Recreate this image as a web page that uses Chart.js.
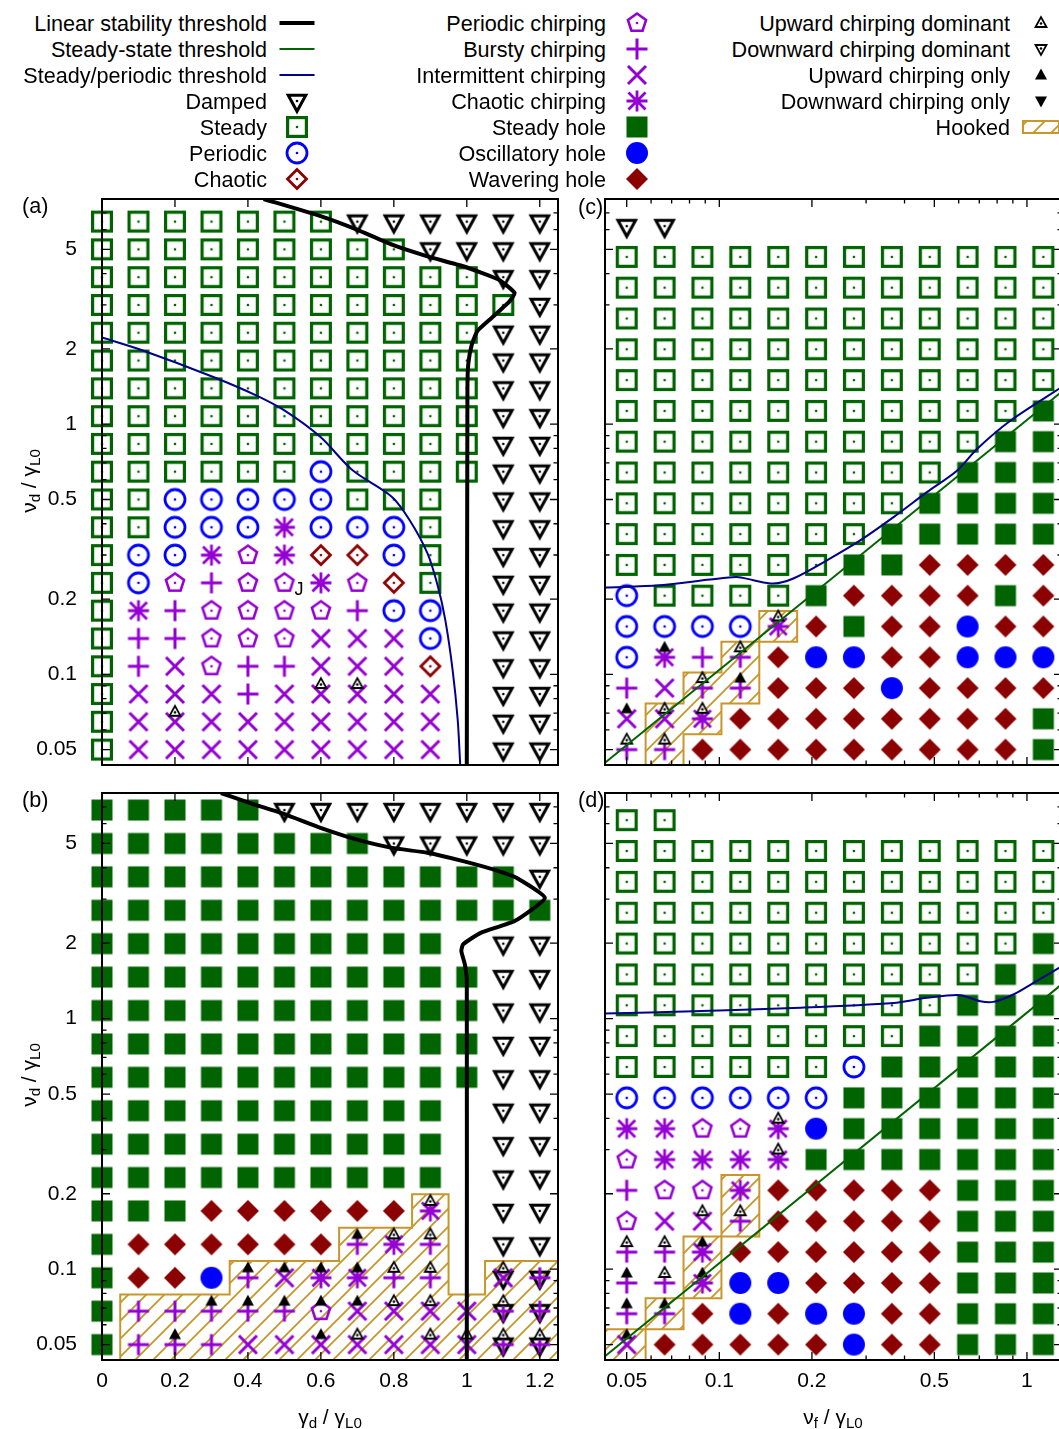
<!DOCTYPE html>
<html>
<head>
<meta charset="utf-8">
<script src="https://cdn.jsdelivr.net/npm/chart.js@4.4.1/dist/chart.umd.min.js"></script>
<style>
  html, body { margin: 0; padding: 0; background: #fff; overflow: hidden; }
  body { width: 1059px; height: 1429px; position: relative; font-family: "Liberation Sans", Arial, sans-serif; color: #000; }
  canvas.panel, canvas.ico { position: absolute; }
  .txt { position: absolute; white-space: nowrap; font-size: 21.6px; line-height: 1; transform: translateY(-50%); }
  .axt { position: absolute; white-space: nowrap; font-size: 21px; line-height: 1; transform: translate(-50%, -50%); }
  .axt.rot { transform: translate(-50%, -50%) rotate(-90deg); }
  sub { font-size: 0.72em; vertical-align: -0.32em; line-height: 0; }
</style>
</head>
<body>
<canvas id="pa" class="panel" width="540" height="590" style="left:30px;top:187px"></canvas>
<canvas id="pb" class="panel" width="540" height="640" style="left:30px;top:781px"></canvas>
<canvas id="pc" class="panel" width="500" height="590" style="left:580px;top:187px"></canvas>
<canvas id="pd" class="panel" width="500" height="640" style="left:580px;top:781px"></canvas>

<div class="txt" style="left:22px;top:206px">(a)</div>
<div class="txt" style="left:22px;top:800px">(b)</div>
<div class="txt" style="left:578px;top:207px">(c)</div>
<div class="txt" style="left:578px;top:800px">(d)</div>
<div class="axt rot" style="left:28px;top:481px">ν<sub>d</sub> / γ<sub>L0</sub></div>
<div class="axt rot" style="left:28px;top:1075px">ν<sub>d</sub> / γ<sub>L0</sub></div>
<div class="axt" style="left:330px;top:1416px">γ<sub>d</sub> / γ<sub>L0</sub></div>
<div class="axt" style="left:833px;top:1416px">ν<sub>f</sub> / γ<sub>L0</sub></div>

<script>
// grid coordinates
const gammaD = [0, 0.1, 0.2, 0.3, 0.4, 0.5, 0.6, 0.7, 0.8, 0.9, 1.0, 1.1, 1.2];
const nuA = [0.05, 0.0646, 0.0834, 0.1077, 0.1391, 0.1797, 0.2321, 0.2997, 0.3871, 0.5, 0.646, 0.834, 1.077, 1.391, 1.797, 2.321, 2.997, 3.871, 5.0, 6.458];
const nuB = [0.05, 0.068, 0.0924, 0.1256, 0.1708, 0.2321, 0.3155, 0.4289, 0.5831, 0.7926, 1.077, 1.464, 1.991, 2.706, 3.679, 5.0, 6.797];
const nuF = [0.05, 0.0664, 0.0881, 0.117, 0.1554, 0.2063, 0.2739, 0.3637, 0.4829, 0.6412, 0.8514, 1.1305];
const nuCD = [0.05, 0.0664, 0.0881, 0.117, 0.1554, 0.2063, 0.2739, 0.3637, 0.4829, 0.6412, 0.8514, 1.1305, 1.5011, 1.9932, 2.6466, 3.5142, 4.6662, 6.1958];

// regime maps, top row first.  S steady, D damped, P periodic, C chaotic,
// p/b/i/c periodic/bursty/intermittent/chaotic chirping, H/O/W steady/oscillatory/wavering hole,
// u/d upward/downward dominant, U/V upward/downward only
const mapA = [
  'S S S S S S S D D D D D D',
  'S S S S S S S S S D D D D',
  'S S S S S S S S S S S D D',
  'S S S S S S S S S S S S D',
  'S S S S S S S S S S S D D',
  'S S S S S S S S S S S D D',
  'S S S S S S S S S S S D D',
  'S S S S S S S S S S S D D',
  'S S S S S S S S S S S D D',
  'S S S S S S P S S S S D D',
  'S S P P P P P S S S . D D',
  'S S P P P c P P P S . D D',
  'S P P c p c C C P S . D D',
  'S P p b p p c p C S . D D',
  'S c b p p p p b P P . D D',
  'S b b p p p i i i P . D D',
  'S b i p b b i i i C . D D',
  'S i i i b i iu iu i i . D D',
  'S i iu i i i i i i i . D D',
  'S i i i i i i i i i . D D'
];
const mapB = [
  'H H H H H D D D D D D D D',
  'H H H H H H H H D D D D D',
  'H H H H H H H H H H H H D',
  'H H H H H H H H H H H H H',
  'H H H H H H H H H H . D D',
  'H H H H H H H H H H H D D',
  'H H H H H H H H H H H D D',
  'H H H H H H H H H H H D D',
  'H H H H H H H H H H H D D',
  'H H H H H H H H H H . D D',
  'H H H H H H H H H H . D D',
  'H H H H H H H H H H . D D',
  'H H H W W W W W W cu . D D',
  'H W W W W W W bU cu bu . D D',
  'H W W O bU iU cU cU bu bu . Diu Db',
  'H b b bU bU bU pU iU iu iu i Dbu Db',
  'H b bU b i i iU iu i iu iu Dbu Dbu'
];
const mapC = [
  'D D . . . . . . . . . .',
  'S S S S S S S S S S S S',
  'S S S S S S S S S S S S',
  'S S S S S S S S S S S S',
  'S S S S S S S S S S S S',
  'S S S S S S S S S S S S',
  'S S S S S S S S S S S H',
  'S S S S S S S S S S H H',
  'S S S S S S S S S H H H',
  'S S S S S S S S H H H H',
  'S S S S S S S H H H H H',
  'S S S S S S H H W W W W',
  'P S S S S H W W W W H W',
  'P P P P cu W H W W O W W',
  'P cU b bu W O O W W O O O',
  'b i bu bU W W W O W W W W',
  'iU iu cu W W W W W W W W H',
  'bu bu W W W W W W W W W H'
];
const mapD = [
  'S S . . . . . . . . . .',
  'S S S S S S S S S S S S',
  'S S S S S S S S S S S S',
  'S S S S S S S S S S S S',
  'S S S S S S S S S S S H',
  'S S S S S S S S S S H H',
  'S S S S S S S S S H H H',
  'S S S S S S S S H H H H',
  'S S S S S S P H H H H H',
  'P P P P P P H H H H H H',
  'c c p p cu O H H H H H H',
  'p c c c cu H H H H H H H',
  'b p p c W W W W W H H H',
  'p i iu bu W W W W W H H H',
  'bu bu cU W W W W W W H H H',
  'bU bu cU O O W W W W H H H',
  'bU bU W O W O O W W H H H',
  'iU W W W W W O W W H H H'
];

// threshold curves
const stabA_x = [0.443, 0.599, 0.697, 0.795, 0.892, 0.990, 1.087, 1.131, 1.117, 1.068, 1.029, 1.014, 1.004, 1.0017, 1.0];
const stabA_y = [7.95, 6.79, 6.01, 5.22, 4.69, 4.28, 3.79, 3.35, 3.10, 2.66, 2.36, 2.09, 1.74, 1.36, 0.0434];
const perA_x = [0, 0.112, 0.307, 0.424, 0.502, 0.599, 0.687, 0.795, 0.843, 0.892, 0.921, 0.941, 0.961, 0.975, 0.982];
const perA_y = [2.22, 1.97, 1.54, 1.30, 1.13, 0.888, 0.654, 0.512, 0.414, 0.305, 0.224, 0.165, 0.1045, 0.066, 0.0434];
const stabB_x = [0.326, 0.404, 0.502, 0.599, 0.697, 0.795, 0.892, 0.990, 1.087, 1.136, 1.214, 1.131, 1.038, 0.990, 0.985, 0.995, 1.0, 1.0];
const stabB_y = [7.95, 7.26, 6.53, 5.77, 5.19, 4.80, 4.59, 4.25, 3.88, 3.65, 3.03, 2.45, 2.20, 1.98, 1.86, 1.64, 1.41, 0.0434];
const perC_x = [0.0425, 0.0642, 0.0933, 0.114, 0.129, 0.150, 0.174, 0.2237, 0.287, 0.3684, 0.473, 0.592, 0.688, 0.883, 1.30];
const perC_y = [0.2224, 0.2272, 0.2393, 0.2451, 0.2378, 0.2307, 0.2416, 0.2856, 0.343, 0.425, 0.535, 0.652, 0.796, 1.032, 1.41];
const ssC_x = [0.0425, 1.30];
const ssC_y = [0.0443, 1.352];
const perD_x = [0.0425, 0.0823, 0.174, 0.368, 0.473, 0.607, 0.705, 0.778, 0.904, 1.05, 1.30];
const perD_y = [1.048, 1.070, 1.103, 1.155, 1.21, 1.24, 1.173, 1.166, 1.248, 1.388, 1.62];
const ssD_x = [0.0425, 1.30];
const ssD_y = [0.0449, 1.373];

// hooked regions
const hookB_x = [0.05, 0.05, 0.35, 0.35, 0.65, 0.65, 0.85, 0.85, 0.95, 0.95, 1.05, 1.05, 1.25, 1.25, 0.05];
const hookB_y = [0.0434, 0.0792, 0.0792, 0.1077, 0.1077, 0.1464, 0.1464, 0.1991, 0.1991, 0.0792, 0.0792, 0.1077, 0.1077, 0.0434, 0.0434];
const hookC_x = [0.0576, 0.0576, 0.0765, 0.0765, 0.1016, 0.1016, 0.1349, 0.1349, 0.1791, 0.1791, 0.1349, 0.1349, 0.1016, 0.1016, 0.0765, 0.0765, 0.0576];
const hookC_y = [0.0434, 0.0765, 0.0765, 0.1016, 0.1016, 0.1349, 0.1349, 0.1791, 0.1791, 0.1349, 0.1349, 0.0765, 0.0765, 0.0576, 0.0576, 0.0434, 0.0434];
const hookD_x = [0.0425, 0.0425, 0.0576, 0.0576, 0.0765, 0.0765, 0.1016, 0.1016, 0.1349, 0.1349, 0.1016, 0.1016, 0.0765, 0.0765, 0.0576, 0.0576, 0.0425];
const hookD_y = [0.0434, 0.0576, 0.0576, 0.0765, 0.0765, 0.1349, 0.1349, 0.2377, 0.2377, 0.1349, 0.1349, 0.0765, 0.0765, 0.0576, 0.0576, 0.0434, 0.0434];

// ticks
const yTicks = [0.05, 0.06, 0.07, 0.08, 0.09, 0.1, 0.2, 0.3, 0.4, 0.5, 0.6, 0.7, 0.8, 0.9, 1, 2, 3, 4, 5, 6, 7];
const yLabels = [0.05, 0.1, 0.2, 0.5, 1, 2, 5];
const xTicksAB = [0, 0.2, 0.4, 0.6, 0.8, 1, 1.2];
const xTicksCD = [0.05, 0.06, 0.07, 0.08, 0.09, 0.1, 0.2, 0.3, 0.4, 0.5, 0.6, 0.7, 0.8, 0.9, 1];
const xLabelsCD = [0.05, 0.1, 0.2, 0.5, 1];
const notesA = [{text: 'J', x: 0.54, y: 0.2179}];

const GREEN = '#006400', BLUE = '#0000ff', DRED = '#8b0000', PURPLE = '#9400d3', BLACK = '#000000';
const NAVY = '#00008b', GOLD = '#c8962a';

Chart.defaults.font.family = '"Liberation Sans", Arial, sans-serif';

function poly(g, pts) {
  g.beginPath();
  pts.forEach((p, i) => i ? g.lineTo(p[0], p[1]) : g.moveTo(p[0], p[1]));
  g.closePath();
}
function segs(g, color, w, list) {
  g.strokeStyle = color; g.lineWidth = w;
  g.beginPath();
  list.forEach(s => { g.moveTo(s[0], s[1]); g.lineTo(s[2], s[3]); });
  g.stroke();
}
function dot(g, x, y, color) {
  g.fillStyle = color;
  g.beginPath(); g.arc(x, y, 1.3, 0, 2 * Math.PI); g.fill();
}

function drawSym(g, code, x, y) {
  g.save();
  g.lineJoin = 'miter';
  switch (code) {
    case 'S':
      g.strokeStyle = GREEN; g.lineWidth = 3.2;
      g.strokeRect(x - 9.4, y - 9.4, 18.8, 18.8);
      dot(g, x, y, GREEN); break;
    case 'H':
      g.fillStyle = GREEN; g.fillRect(x - 10.5, y - 10.5, 21, 21); break;
    case 'D':
      g.strokeStyle = BLACK; g.lineWidth = 3;
      poly(g, [[x - 8.8, y - 5.7], [x + 8.8, y - 5.7], [x, y + 10.3]]); g.stroke();
      dot(g, x, y, BLACK); break;
    case 'P':
      g.strokeStyle = BLUE; g.lineWidth = 2.8;
      g.beginPath(); g.arc(x, y, 10, 0, 2 * Math.PI); g.stroke();
      dot(g, x, y, BLUE); break;
    case 'O':
      g.fillStyle = BLUE;
      g.beginPath(); g.arc(x, y, 11, 0, 2 * Math.PI); g.fill(); break;
    case 'C':
      g.strokeStyle = DRED; g.lineWidth = 2.8;
      poly(g, [[x, y - 9.5], [x + 9.5, y], [x, y + 9.5], [x - 9.5, y]]); g.stroke();
      dot(g, x, y, DRED); break;
    case 'W':
      g.fillStyle = DRED;
      poly(g, [[x, y - 11], [x + 11, y], [x, y + 11], [x - 11, y]]); g.fill(); break;
    case 'p': {
      const pts = [];
      for (let k = 0; k < 5; k++) {
        const a = -Math.PI / 2 + k * 2 * Math.PI / 5;
        pts.push([x + 9.5 * Math.cos(a), y + 9.5 * Math.sin(a)]);
      }
      g.strokeStyle = PURPLE; g.lineWidth = 2.6;
      poly(g, pts); g.stroke();
      dot(g, x, y, PURPLE); break;
    }
    case 'b':
      segs(g, PURPLE, 3, [[x - 10.5, y, x + 10.5, y], [x, y - 10.5, x, y + 10.5]]); break;
    case 'i':
      segs(g, PURPLE, 3, [[x - 9, y - 9, x + 9, y + 9], [x - 9, y + 9, x + 9, y - 9]]); break;
    case 'c':
      segs(g, PURPLE, 2.8, [[x - 10.5, y, x + 10.5, y], [x, y - 10.5, x, y + 10.5],
        [x - 8.5, y - 8.5, x + 8.5, y + 8.5], [x - 8.5, y + 8.5, x + 8.5, y - 8.5]]); break;
    case 'u':
      g.fillStyle = '#fff'; g.strokeStyle = BLACK; g.lineWidth = 1.8;
      poly(g, [[x - 5.5, y + 4], [x + 5.5, y + 4], [x, y - 6]]); g.fill(); g.stroke();
      dot(g, x, y + 0.5, BLACK); break;
    case 'd':
      g.fillStyle = '#fff'; g.strokeStyle = BLACK; g.lineWidth = 1.8;
      poly(g, [[x - 5.5, y - 4], [x + 5.5, y - 4], [x, y + 6]]); g.fill(); g.stroke();
      dot(g, x, y - 0.5, BLACK); break;
    case 'U':
      g.fillStyle = BLACK;
      poly(g, [[x - 6, y + 4.5], [x + 6, y + 4.5], [x, y - 6.5]]); g.fill(); break;
    case 'V':
      g.fillStyle = BLACK;
      poly(g, [[x - 6, y - 4.5], [x + 6, y - 4.5], [x, y + 6.5]]); g.fill(); break;
  }
  g.restore();
}

function makeIcon(code) {
  const c = document.createElement('canvas');
  c.width = 40; c.height = 40;
  const lift = 'udUV'.includes(code) ? -10 : 0;
  drawSym(c.getContext('2d'), code, 20, 20 + lift);
  return c;
}
const ICONS = {};
'SHDPOCWpbicudUV'.split('').forEach(ch => { ICONS[ch] = makeIcon(ch); });
const LAYER = {S: 30, H: 30, D: 30, P: 30, O: 30, C: 30, W: 30, p: 20, b: 20, i: 20, c: 20, u: 10, d: 10, U: 10, V: 10};

const TILE = (function () {
  const t = document.createElement('canvas');
  t.width = 18; t.height = 18;
  const g = t.getContext('2d');
  g.strokeStyle = GOLD; g.lineWidth = 1.8;
  g.beginPath();
  g.moveTo(-2, 20); g.lineTo(20, -2);
  g.moveTo(-2, 2); g.lineTo(2, -2);
  g.moveTo(16, 20); g.lineTo(20, 16);
  g.stroke();
  return t;
})();

function markerSets(map, xs, ys) {
  const groups = {};
  map.forEach((row, i) => {
    const k = map.length - 1 - i;
    row.trim().split(/\s+/).forEach((tok, j) => {
      if (tok === '.') return;
      for (const ch of tok) {
        (groups[ch] = groups[ch] || []).push({x: xs[j], y: ys[k]});
      }
    });
  });
  return Object.keys(groups).map(ch => ({
    data: groups[ch],
    pointStyle: ICONS[ch],
    pointRadius: 11,
    clip: false,
    order: LAYER[ch]
  }));
}

function curve(xs, ys, color, width, tension) {
  return {
    data: xs.map((x, i) => ({x: x, y: ys[i]})),
    showLine: true, borderColor: color, borderWidth: width,
    pointRadius: 0, tension: tension, fill: false, order: 0
  };
}

function hooked(xs, ys) {
  return {
    data: xs.map((x, i) => ({x: x, y: ys[i]})),
    showLine: true, borderColor: GOLD, borderWidth: 2, tension: 0, pointRadius: 0,
    fill: 'shape',
    backgroundColor: ctx => ctx.chart.ctx.createPattern(TILE, 'repeat'),
    order: 40
  };
}

function framePlugin(cfg) {
  return {
    id: 'frame',
    afterDraw(chart) {
      const {ctx, chartArea: a, scales: {x, y}} = chart;
      ctx.save();
      ctx.strokeStyle = BLACK;
      ctx.lineWidth = 1.3;
      ctx.beginPath();
      cfg.xTicks.forEach(v => {
        const px = x.getPixelForValue(v);
        const len = cfg.xLabels.includes(v) ? 8 : 4.5;
        ctx.moveTo(px, a.bottom); ctx.lineTo(px, a.bottom - len);
        ctx.moveTo(px, a.top); ctx.lineTo(px, a.top + len);
      });
      yTicks.forEach(v => {
        const py = y.getPixelForValue(v);
        const len = yLabels.includes(v) ? 8 : 4.5;
        ctx.moveTo(a.left, py); ctx.lineTo(a.left + len, py);
        ctx.moveTo(a.right, py); ctx.lineTo(a.right - len, py);
      });
      ctx.stroke();
      ctx.lineWidth = 2;
      ctx.strokeRect(a.left, a.top, a.right - a.left, a.bottom - a.top);
      (cfg.notes || []).forEach(n => {
        ctx.fillStyle = BLACK;
        ctx.font = '18px "Liberation Sans", Arial, sans-serif';
        ctx.textAlign = 'center'; ctx.textBaseline = 'middle';
        ctx.fillText(n.text, x.getPixelForValue(n.x), y.getPixelForValue(n.y));
      });
      ctx.restore();
    }
  };
}

function zeroPad(s) { s.paddingTop = 0; s.paddingBottom = 0; s.paddingLeft = 0; s.paddingRight = 0; }

function makePanel(id, cfg) {
  new Chart(document.getElementById(id), {
    type: 'scatter',
    data: {datasets: cfg.datasets},
    options: {
      responsive: false, animation: false, events: [],
      layout: {padding: {left: 0, right: cfg.padRight, top: 10, bottom: 0}},
      plugins: {legend: {display: false}, tooltip: {enabled: false}},
      scales: {
        x: {
          type: cfg.xType, min: cfg.xMin, max: cfg.xMax, position: 'bottom',
          grid: {display: false, drawTicks: false}, border: {display: false},
          afterBuildTicks: s => { s.ticks = cfg.xTicks.map(v => ({value: v})); },
          afterFit: s => { s.height = cfg.showX ? 61 : 12; zeroPad(s); },
          ticks: {
            display: cfg.showX, autoSkip: false, maxRotation: 0, minRotation: 0, padding: 9,
            color: BLACK, font: {size: 21},
            callback: v => cfg.xLabels.includes(v) ? String(v) : ''
          }
        },
        y: {
          type: 'logarithmic', min: 0.0434, max: 7.95, position: 'left',
          grid: {display: false, drawTicks: false}, border: {display: false},
          afterBuildTicks: s => { s.ticks = yTicks.map(v => ({value: v})); },
          afterFit: s => { s.width = cfg.yWidth; zeroPad(s); },
          ticks: {
            display: cfg.showY, autoSkip: false, padding: 25, color: BLACK, font: {size: 21},
            callback: v => yLabels.includes(v) ? String(v) : ''
          }
        }
      }
    },
    plugins: [framePlugin(cfg)]
  });
}

makePanel('pa', {
  xType: 'linear', xMin: 0, xMax: 1.25, xTicks: xTicksAB, xLabels: xTicksAB,
  showX: false, showY: true, yWidth: 72, padRight: 11, notes: notesA,
  datasets: [
    curve(stabA_x, stabA_y, BLACK, 4, 0.15),
    curve(perA_x, perA_y, NAVY, 2, 0.3)
  ].concat(markerSets(mapA, gammaD, nuA))
});
makePanel('pb', {
  xType: 'linear', xMin: 0, xMax: 1.25, xTicks: xTicksAB, xLabels: xTicksAB,
  showX: true, showY: true, yWidth: 72, padRight: 11,
  datasets: [
    curve(stabB_x, stabB_y, BLACK, 4, 0.15),
    hooked(hookB_x, hookB_y)
  ].concat(markerSets(mapB, gammaD, nuB))
});
makePanel('pc', {
  xType: 'logarithmic', xMin: 0.0425, xMax: 1.30, xTicks: xTicksCD, xLabels: xLabelsCD,
  showX: false, showY: false, yWidth: 25, padRight: 18,
  datasets: [
    curve(perC_x, perC_y, NAVY, 2, 0.3),
    curve(ssC_x, ssC_y, GREEN, 2, 0),
    hooked(hookC_x, hookC_y)
  ].concat(markerSets(mapC, nuF, nuCD))
});
makePanel('pd', {
  xType: 'logarithmic', xMin: 0.0425, xMax: 1.30, xTicks: xTicksCD, xLabels: xLabelsCD,
  showX: true, showY: false, yWidth: 25, padRight: 18,
  datasets: [
    curve(perD_x, perD_y, NAVY, 2, 0.3),
    curve(ssD_x, ssD_y, GREEN, 2, 0),
    hooked(hookD_x, hookD_y)
  ].concat(markerSets(mapD, nuF, nuCD))
});

// legend
const legendRows = [24, 50, 76, 102, 128, 154, 180];
const legendCols = [
  {right: 267, icon: 297, items: [
    ['Linear stability threshold', 'lineBlack'], ['Steady-state threshold', 'lineGreen'],
    ['Steady/periodic threshold', 'lineBlue'], ['Damped', 'D'], ['Steady', 'S'],
    ['Periodic', 'P'], ['Chaotic', 'C']]},
  {right: 606, icon: 637, items: [
    ['Periodic chirping', 'p'], ['Bursty chirping', 'b'], ['Intermittent chirping', 'i'],
    ['Chaotic chirping', 'c'], ['Steady hole', 'H'], ['Oscillatory hole', 'O'], ['Wavering hole', 'W']]},
  {right: 1010, icon: 1041, items: [
    ['Upward chirping dominant', 'u'], ['Downward chirping dominant', 'd'],
    ['Upward chirping only', 'U'], ['Downward chirping only', 'V'], ['Hooked', 'hook']]}
];

legendCols.forEach(col => {
  col.items.forEach((item, r) => {
    const y = legendRows[r];
    const t = document.createElement('div');
    t.className = 'txt';
    t.style.right = (1059 - col.right) + 'px';
    t.style.top = y + 'px';
    t.textContent = item[0];
    document.body.appendChild(t);

    const c = document.createElement('canvas');
    c.className = 'ico';
    c.width = 48; c.height = 28;
    c.style.left = (col.icon - 24) + 'px';
    c.style.top = (y - 1 - 14) + 'px';
    const g = c.getContext('2d');
    const code = item[1];
    if (code === 'lineBlack') segs(g, BLACK, 4, [[6.5, 14, 41.5, 14]]);
    else if (code === 'lineGreen') segs(g, GREEN, 2, [[6.5, 14, 41.5, 14]]);
    else if (code === 'lineBlue') segs(g, NAVY, 2, [[6.5, 14, 41.5, 14]]);
    else if (code === 'hook') {
      g.fillStyle = g.createPattern(TILE, 'repeat');
      g.fillRect(6, 8, 36, 12);
      g.strokeStyle = GOLD; g.lineWidth = 2;
      g.strokeRect(6, 8, 36, 12);
    } else drawSym(g, code, 24, 14);
    document.body.appendChild(c);
  });
});
</script>
</body>
</html>
